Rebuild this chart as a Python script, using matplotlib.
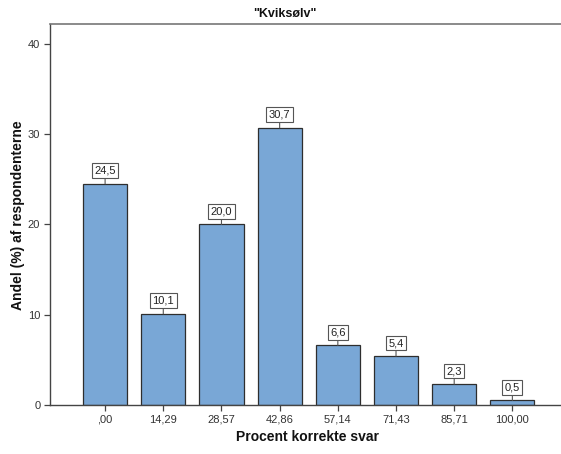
import matplotlib
matplotlib.use("Agg")
import matplotlib.pyplot as plt

categories = [",00", "14,29", "28,57", "42,86", "57,14", "71,43", "85,71", "100,00"]
values = [24.5, 10.1, 20.0, 30.7, 6.6, 5.4, 2.3, 0.5]
value_labels = ["24,5", "10,1", "20,0", "30,7", "6,6", "5,4", "2,3", "0,5"]
yticks = [0, 10, 20, 30, 40]

plt.rcParams['font.family'] = ['Liberation Sans', 'DejaVu Sans']

W, H = 561, 454
fig = plt.figure(figsize=(W / 100, H / 100), dpi=100)
left, top, bottom = 50, 24, 405
ax = fig.add_axes([left / W, 1 - bottom / H, (W + 2 - left) / W, (bottom - top) / H])

x = list(range(len(categories)))
ax.bar(x, values, width=0.76, color='#79a7d6', edgecolor='#2e2e2e', linewidth=0.9, zorder=2)

ax.set_xlim(-0.947, 7.87)
ax.set_ylim(0, 42.2)
ax.set_xticks(x)
ax.set_xticklabels(categories, fontsize=8, color='#333')
ax.set_yticks(yticks)
ax.set_yticklabels([str(t) for t in yticks], fontsize=8, color='#333')
ax.tick_params(axis='both', direction='out', length=4, width=0.9, color='#444', pad=3)

for s in ['left', 'bottom']:
    ax.spines[s].set_color('#444')
    ax.spines[s].set_linewidth(1.0)
ax.spines['top'].set_color('#777')
ax.spines['top'].set_linewidth(1.2)
ax.spines['right'].set_visible(False)

for xi, v, lab in zip(x, values, value_labels):
    ax.annotate(lab, xy=(xi, v), xytext=(0, 9.5), textcoords='offset points',
                ha='center', va='center', fontsize=8, color='#222',
                bbox=dict(boxstyle='square,pad=0.22', fc='white', ec='#555', lw=0.8),
                arrowprops=dict(arrowstyle='-', color='#555', lw=0.8, shrinkA=0, shrinkB=0),
                zorder=3)

fig.text(285 / W, 1 - 14 / H, '"Kviksølv"', ha='center', va='center', fontsize=9, fontweight='bold', color='#111')
fig.text(308 / W, 1 - 437 / H, 'Procent korrekte svar', ha='center', va='center', fontsize=10, fontweight='bold', color='#111')
fig.text(18 / W, 1 - 215 / H, 'Andel (%) af respondenterne', ha='center', va='center', rotation=90, fontsize=10, fontweight='bold', color='#111')

fig.savefig('out.png', dpi=100)
